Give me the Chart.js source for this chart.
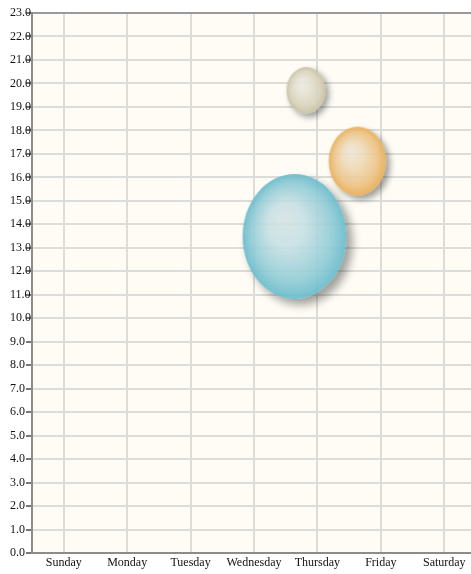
<!DOCTYPE html>
<html>
<head>
<meta charset="utf-8">
<script src="https://cdn.jsdelivr.net/npm/chart.js@4.4.1/dist/chart.umd.min.js"></script>
<style>
  html, body { margin: 0; padding: 0; background: #ffffff; overflow: hidden; }
  #wrap { width: 471px; height: 574px; overflow: hidden; position: relative; }
  canvas { display: block; }
</style>
</head>
<body>
<div id="wrap"><canvas id="c" width="476" height="574"></canvas></div>
<script>
// ---- data ----
const days = ['Sunday', 'Monday', 'Tuesday', 'Wednesday', 'Thursday', 'Friday', 'Saturday'];
const bubbleX = [3.64, 4.63, 3.82];
const bubbleY = [13.48, 16.69, 19.70];
const bubbleR = [52, 28.7, 19.5];
const yTicks = [0,1,2,3,4,5,6,7,8,9,10,11,12,13,14,15,16,17,18,19,20,21,22,23];

// ---- style ----
const ASPECT = 1.2;
const palettes = [
  ['rgba(212,226,227,0.88)', 'rgba(198,223,227,0.88)', 'rgba(143,203,214,0.9)', 'rgba(104,186,202,0.92)'],
  ['rgba(237,229,216,0.9)', 'rgba(238,219,187,0.9)', 'rgba(236,194,131,0.92)', 'rgba(232,172,84,0.94)'],
  ['rgba(235,233,224,0.9)', 'rgba(229,226,212,0.9)', 'rgba(214,209,185,0.92)', 'rgba(198,191,160,0.94)']
];

function makeBubble(r, pal) {
  const rx = r, ry = r * ASPECT;
  const off = 2 + r * 0.07, blur = 4 + r * 0.1;
  const pad = Math.ceil(off + blur * 1.5 + 4);
  const w = Math.ceil(2 * (rx + pad)), h = Math.ceil(2 * (ry + pad));
  const c = document.createElement('canvas');
  c.width = w; c.height = h;
  const g = c.getContext('2d');
  const cx = w / 2, cy = h / 2;
  // drop shadow only outside the bubble
  g.save();
  g.shadowColor = 'rgba(0,0,0,0.38)';
  g.shadowBlur = blur;
  g.shadowOffsetX = off + 10000;
  g.shadowOffsetY = off;
  g.beginPath();
  g.ellipse(cx - 10000, cy, rx, ry, 0, 0, Math.PI * 2);
  g.fillStyle = '#000';
  g.fill();
  g.restore();
  g.save();
  g.globalCompositeOperation = 'destination-out';
  g.beginPath();
  g.ellipse(cx, cy, rx, ry, 0, 0, Math.PI * 2);
  g.fill();
  g.restore();
  // body
  g.save();
  g.translate(cx, cy);
  g.scale(1, ASPECT);
  const grad = g.createRadialGradient(-0.25 * r, -0.3 * r, 0, 0, 0, r);
  grad.addColorStop(0, pal[0]);
  grad.addColorStop(0.35, pal[1]);
  grad.addColorStop(0.78, pal[2]);
  grad.addColorStop(1, pal[3]);
  g.beginPath();
  g.arc(0, 0, r, 0, Math.PI * 2);
  g.fillStyle = grad;
  g.fill();
  g.restore();
  return c;
}
const images = bubbleR.map((r, i) => makeBubble(r, palettes[i]));

const points = bubbleX.map((x, i) => ({ x: x, y: bubbleY[i], r: bubbleR[i] }));

const plotBg = {
  id: 'plotBg',
  beforeDraw(chart) {
    const a = chart.chartArea, ctx = chart.ctx;
    ctx.save();
    ctx.fillStyle = '#fefcf5';
    ctx.fillRect(a.left, a.top, a.right - a.left, a.bottom - a.top);
    ctx.restore();
  }
};

const FONT = { family: '"Liberation Serif", "Times New Roman", serif', size: 12 };

new Chart(document.getElementById('c'), {
  type: 'bubble',
  data: {
    datasets: [{
      data: points,
      pointStyle: (ctx) => images[ctx.dataIndex],
      backgroundColor: 'rgba(0,0,0,0)',
      borderWidth: 0
    }]
  },
  options: {
    responsive: false,
    animation: false,
    devicePixelRatio: 1,
    layout: { autoPadding: false, padding: { left: 10, top: 13, right: 0, bottom: 0 } },
    plugins: { legend: { display: false }, tooltip: { enabled: false } },
    scales: {
      x: {
        type: 'linear',
        min: -0.5,
        max: 6.5,
        afterBuildTicks: (axis) => { axis.ticks = days.map((d, i) => ({ value: i })); },
        afterFit: (axis) => { axis.height = 21; },
        ticks: {
          autoSkip: false,
          maxRotation: 0,
          padding: 3,
          color: '#111',
          font: FONT,
          callback: (v) => days[v]
        },
        grid: { color: '#dcdcd8', lineWidth: 2, drawTicks: false },
        border: { color: '#8c8c8c', width: 2 }
      },
      y: {
        type: 'linear',
        min: 0,
        max: 23,
        afterBuildTicks: (axis) => { axis.ticks = yTicks.map(v => ({ value: v })); },
        afterFit: (axis) => { axis.width = 22; },
        ticks: {
          crossAlign: 'far',
          padding: 0,
          color: '#111',
          font: FONT,
          callback: (v) => Number(v).toFixed(1)
        },
        grid: {
          color: (ctx) => ctx.tick && ctx.tick.value === 23 ? '#9a9a9a' : '#dcdcd8',
          lineWidth: 2,
          tickLength: 6,
          tickColor: '#777'
        },
        border: { color: '#8c8c8c', width: 2 }
      }
    }
  },
  plugins: [plotBg]
});
</script>
</body>
</html>
